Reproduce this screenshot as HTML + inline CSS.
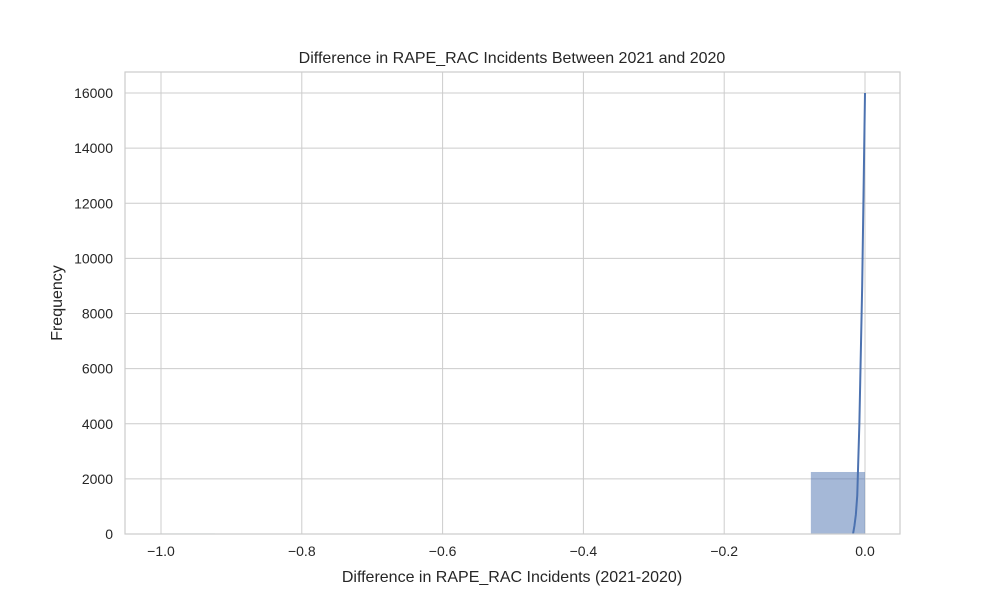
<!DOCTYPE html>
<html><head><meta charset="utf-8"><style>
body{margin:0;background:#fff;font-family:"Liberation Sans","DejaVu Sans",sans-serif}
text{font-family:"Liberation Sans","DejaVu Sans",sans-serif;fill:#262626}
</style></head><body>
<svg id="c" width="1000" height="600">
<rect width="1000" height="600" fill="#fff"/>
<g id="grid"></g><g id="marks"></g><g id="ticks"></g>
<rect x="125" y="72" width="775" height="462" fill="none" stroke="#ccc" stroke-width="1.2"/>
<text x="512" y="63" text-anchor="middle" font-size="16">Difference in RAPE_RAC Incidents Between 2021 and 2020</text>
<text x="512" y="582" text-anchor="middle" font-size="16">Difference in RAPE_RAC Incidents (2021-2020)</text>
<text x="62" y="303" text-anchor="middle" font-size="16" transform="rotate(-90 62 303)">Frequency</text>
</svg>
<script>
const xTicks=[-1.0,-0.8,-0.6,-0.4,-0.2,0.0];
const xTickLabels=["\u22121.0","\u22120.8","\u22120.6","\u22120.4","\u22120.2","0.0"];
const yTicks=[0,2000,4000,6000,8000,10000,12000,14000,16000];
const binEdges=[-1,-0.9231,-0.8462,-0.7692,-0.6923,-0.6154,-0.5385,-0.4615,-0.3846,-0.3077,-0.2308,-0.1538,-0.0769,0];
const binCounts=[20,0,0,0,0,0,0,0,0,0,0,0,2250];
const kdeX=[-0.017,-0.015,-0.013,-0.011,-0.008,-0.004,0];
const kdeY=[0,300,700,1400,4000,9000,16000];
const X=v=>865+v*704, Y=v=>534-v*441/16000;
const ns="http://www.w3.org/2000/svg";
function mk(t,a,p){const e=document.createElementNS(ns,t);for(const k in a)e.setAttribute(k,a[k]);p.appendChild(e);return e;}
const g=document.getElementById('grid'),m=document.getElementById('marks'),tk=document.getElementById('ticks');
xTicks.forEach((v,i)=>{const l=mk('line',{x1:X(v),x2:X(v),y1:72,y2:534,stroke:'#ccc','stroke-width':1},g);

const t=mk('text',{x:X(v),y:556,'text-anchor':'middle','font-size':14},tk);t.textContent=xTickLabels[i];
});
yTicks.forEach(v=>{const l=mk('line',{x1:125,x2:900,y1:Y(v),y2:Y(v),stroke:'#ccc','stroke-width':1},g);

const t=mk('text',{x:113,y:Y(v)+5,'text-anchor':'end','font-size':14},tk);t.textContent=v;
});
binCounts.forEach((c,i)=>{if(!c)return;const r=mk('rect',{x:X(binEdges[i]),y:Y(c),width:X(binEdges[i+1])-X(binEdges[i]),height:534-Y(c),fill:'rgba(76,114,176,0.5)'},m);
});
const p=mk('polyline',{points:kdeX.map((x,i)=>X(x)+','+Y(kdeY[i])).join(' '),fill:'none',stroke:'#4c72b0','stroke-width':2},m);

</script>
</body></html>
